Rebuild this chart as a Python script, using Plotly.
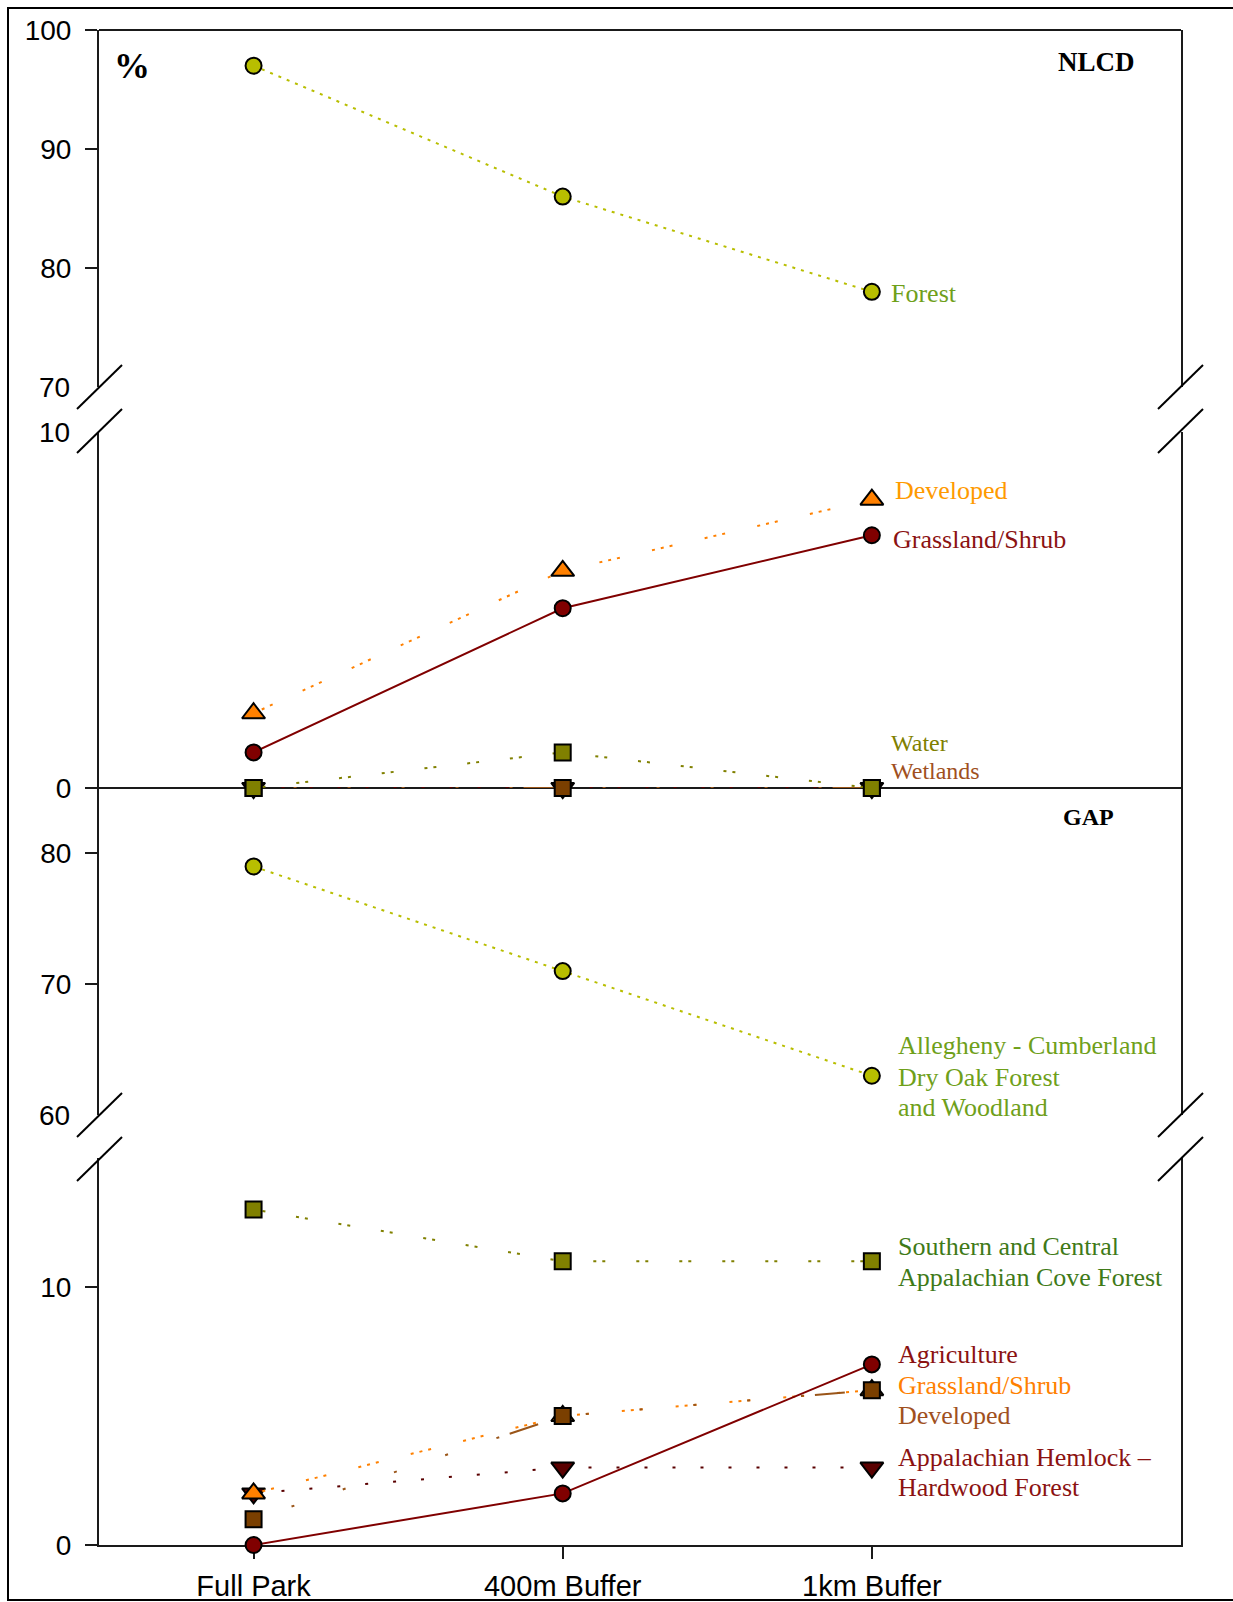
import plotly.graph_objects as go

# ---------------- data ----------------
categories = ["Full Park", "400m Buffer", "1km Buffer"]

nlcd_forest = [97, 86, 78]
nlcd_developed = [2.1, 6.1, 8.1]
nlcd_grassland = [1.0, 5.05, 7.1]
nlcd_water = [0, 1.0, 0]
nlcd_wetlands = [0, 0, 0]
nlcd_other = [0, 0, 0]

gap_allegheny = [79, 71, 63]
gap_cove = [13, 11, 11]
gap_agriculture = [0, 2, 7]
gap_grassland = [2, 5, 6]
gap_developed = [1, 5, 6]
gap_hemlock = [2, 3, 3]

y1_ticks = [80, 90, 100]
y2_ticks = [0]
y3_ticks = [70, 80]
y4_ticks = [0, 10]

# ---------------- geometry helpers (pixels -> paper) ----------------
W, H = 1233, 1602


def px(x):
    return x / W


def py(y):
    return 1 - y / H


X0, X1 = 99, 1181

# ---------------- styles ----------------
YG = "#b8be00"
ORANGE = "#ff8000"
DRED = "#800000"
OLIVE = "#808000"
BROWN = "#7a3f00"
BROWN_LINE = "#9a5518"
HEM = "#5a0000"

DOT_YG = "3px,6px"
DOT_TRIPLE = "3px,6px,3px,6px,3px,33px"
DOT_PAIR = "3px,6px,3px,31px"
DOT_SPARSE = "3px,25px"
DOT_BROWN = "0px,40px,3px,51px,3px,51px,3px,51px,3px,51px,3px,11px,30px,9px"

fig = go.Figure()


def add(y, yaxis, color, dash, symbol, mcolor, msize=16, lw=2):
    fig.add_trace(go.Scatter(
        x=categories, y=y, xaxis="x", yaxis=yaxis,
        mode="lines+markers", cliponaxis=False, hoverinfo="skip",
        line=dict(color=color, width=lw, dash=dash),
        marker=dict(symbol=symbol, size=msize, color=mcolor,
                    line=dict(color="black", width=2)),
    ))


TRI = 20
CIR = 16
SQ = 16
# NLCD top
add(nlcd_forest, "y", YG, DOT_YG, "circle", YG, CIR)
# NLCD bottom
add(nlcd_other, "y2", HEM, DOT_SPARSE, "triangle-down", HEM, TRI)
add(nlcd_wetlands, "y2", BROWN_LINE, DOT_BROWN, "square", BROWN, SQ)
add(nlcd_water, "y2", OLIVE, DOT_PAIR, "square", OLIVE, SQ)
add(nlcd_grassland, "y2", DRED, "solid", "circle", DRED, CIR)
add(nlcd_developed, "y2", ORANGE, DOT_TRIPLE, "triangle-up", ORANGE, TRI)
# GAP top
add(gap_allegheny, "y3", YG, DOT_YG, "circle", YG, CIR)
# GAP bottom
add(gap_cove, "y4", OLIVE, DOT_PAIR, "square", OLIVE, SQ)
add(gap_hemlock, "y4", HEM, DOT_SPARSE, "triangle-down", HEM, TRI)
add(gap_grassland, "y4", ORANGE, DOT_TRIPLE, "triangle-up", ORANGE, TRI)
add(gap_developed, "y4", BROWN_LINE, DOT_BROWN, "square", BROWN, SQ)
add(gap_agriculture, "y4", DRED, "solid", "circle", DRED, CIR)

SANS = "Liberation Sans, Arial, sans-serif"
TICKFONT = dict(family=SANS, size=28, color="black")
common_y = dict(
    showline=True, linecolor="#1a1a1a", linewidth=2, mirror=True,
    ticks="outside", ticklen=12, tickwidth=2, tickcolor="#1a1a1a",
    showgrid=False, zeroline=False, tickfont=TICKFONT,
    anchor="x", automargin=False, layer="below traces",
    ticklabelstandoff=8, fixedrange=True,
)

fig.update_layout(
    width=W, height=H,
    margin=dict(l=0, r=0, t=0, b=0),
    paper_bgcolor="white", plot_bgcolor="white",
    showlegend=False,
    xaxis=dict(
        type="category", range=[-0.5, 3.0], domain=[px(X0), px(X1)],
        anchor="y4", showline=True, linecolor="#1a1a1a", linewidth=2,
        ticks="outside", ticklen=12, tickwidth=2, tickcolor="#1a1a1a",
        showgrid=False, zeroline=False, automargin=False, layer="below traces",
        tickfont=dict(family=SANS, size=29, color="black"),
        ticklabelstandoff=2, fixedrange=True,
    ),
    yaxis=dict(domain=[py(387), py(30)], range=[70, 100], tickvals=y1_ticks, **common_y),
    yaxis2=dict(domain=[py(788), py(432)], range=[0, 10], tickvals=y2_ticks, **common_y),
    yaxis3=dict(domain=[py(1115), py(788)], range=[60, 85], tickvals=y3_ticks, **common_y),
    yaxis4=dict(domain=[py(1545), py(1158)], range=[0, 15], tickvals=y4_ticks, **common_y),
)

shapes = []
LINE = dict(color="#1a1a1a", width=2)
# top line of NLCD panel and zero line between NLCD / GAP
shapes.append(dict(type="line", xref="paper", yref="paper", x0=px(X0), x1=px(X1),
                   y0=py(30), y1=py(30), line=LINE, layer="below"))
shapes.append(dict(type="line", xref="paper", yref="paper", x0=px(87), x1=px(X1),
                   y0=py(788), y1=py(788), line=LINE, layer="below"))
# axis break marks
for ytop in (365, 1093):
    for dy in (0, 44):
        for xl in (77, 1158):
            shapes.append(dict(type="line", xref="paper", yref="paper",
                               x0=px(xl), y0=py(ytop + dy + 44),
                               x1=px(xl + 45), y1=py(ytop + dy),
                               line=dict(color="black", width=2)))
# outer frame
shapes.append(dict(type="rect", xref="paper", yref="paper",
                   x0=px(8), y0=py(1600), x1=px(1260), y1=py(8),
                   line=dict(color="black", width=2), fillcolor="rgba(0,0,0,0)"))
fig.update_layout(shapes=shapes)

SERIF = "Liberation Serif, Times New Roman, serif"
anns = []


def label(text, x, y, size=26, color="black", xanchor="left", bold=False, family=SERIF):
    anns.append(dict(text=("<b>%s</b>" % text) if bold else text,
                     xref="paper", yref="paper", x=px(x), y=py(y),
                     xanchor=xanchor, yanchor="middle", showarrow=False,
                     align="left", font=dict(family=family, size=size, color=color)))


# break tick labels
label("70", 72, 387, size=28, xanchor="right", family=SANS)
label("10", 72, 432, size=28, xanchor="right", family=SANS)
label("60", 72, 1115, size=28, xanchor="right", family=SANS)

# panel titles
label("%", 132, 66, size=36, bold=True, xanchor="center")
label("NLCD", 1096, 62, size=27, bold=True, xanchor="center")
label("GAP", 1088, 817, size=24, bold=True, xanchor="center")

# series labels (one annotation per text line)
FG = "#6fa01a"
RED_T = "#8b1212"
BROWN_T = "#a0501e"
label("Forest", 889, 293, color=FG)
label("Developed", 893, 490, color="#ff9a00")
label("Grassland/Shrub", 891, 540, color=RED_T)
label("Water", 889, 743, size=24, color="#808000")
label("Wetlands", 889, 771, size=24, color=BROWN_T)
label("Allegheny - Cumberland", 896, 1045, color=FG)
label("Dry Oak Forest", 896, 1077, color=FG)
label("and Woodland", 896, 1107, color=FG)
label("Southern and Central", 896, 1246, color="#3f7a18")
label("Appalachian Cove Forest", 896, 1277, color="#3f7a18")
label("Agriculture", 896, 1354, color=RED_T)
label("Grassland/Shrub", 896, 1385, color="#ff8000")
label("Developed", 896, 1415, color=BROWN_T)
label("Appalachian Hemlock \u2013", 896, 1457, color=RED_T)
label("Hardwood Forest", 896, 1487, color=RED_T)

fig.update_layout(annotations=anns)

fig.write_html(
    "out.html",
    config={"displayModeBar": False, "staticPlot": True},
    post_script="document.body.style.margin='0';document.body.style.overflow='hidden';",
)
